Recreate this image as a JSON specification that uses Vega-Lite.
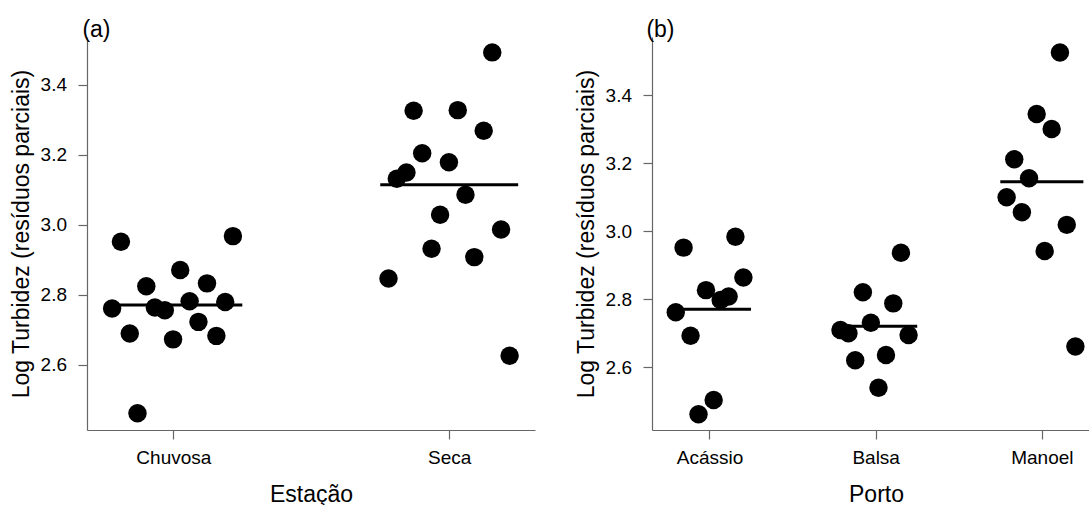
{
  "$schema": "https://vega.github.io/schema/vega-lite/v6.json",
  "autosize": {"type": "none"},
  "padding": {"left": 87, "top": 37, "right": 1002, "bottom": 468},
  "background": "white",
  "bounds": "flush",
  "spacing": 117,
  "config": {
    "view": {"stroke": null},
    "font": "Liberation Sans",
    "axis": {
      "grid": false,
      "domainColor": "#666666",
      "domainWidth": 1.2,
      "tickColor": "#666666",
      "tickWidth": 1.2,
      "tickSize": 9,
      "labelFont": "Liberation Sans",
      "labelFontSize": 19,
      "labelColor": "#000000",
      "titleFont": "Liberation Sans",
      "titleFontSize": 23,
      "titleFontWeight": "normal",
      "titleColor": "#000000"
    },
    "axisX": {"labelPadding": 9, "titleY": 71, "titleBaseline": "alphabetic", "labelAngle": 0},
    "axisY": {"labelPadding": 11.5, "titleX": -58.5, "titleBaseline": "alphabetic", "labelBaseline": "middle"}
  },
  "datasets": {
    "estacao": [
      {"grupo": "Chuvosa", "x": 0.810, "y": 2.952},
      {"grupo": "Chuvosa", "x": 0.778, "y": 2.761},
      {"grupo": "Chuvosa", "x": 0.842, "y": 2.690},
      {"grupo": "Chuvosa", "x": 0.902, "y": 2.825},
      {"grupo": "Chuvosa", "x": 0.933, "y": 2.764},
      {"grupo": "Chuvosa", "x": 0.969, "y": 2.756},
      {"grupo": "Chuvosa", "x": 1.025, "y": 2.871},
      {"grupo": "Chuvosa", "x": 0.999, "y": 2.673},
      {"grupo": "Chuvosa", "x": 1.059, "y": 2.782},
      {"grupo": "Chuvosa", "x": 1.091, "y": 2.723},
      {"grupo": "Chuvosa", "x": 1.122, "y": 2.833},
      {"grupo": "Chuvosa", "x": 1.156, "y": 2.683},
      {"grupo": "Chuvosa", "x": 1.188, "y": 2.780},
      {"grupo": "Chuvosa", "x": 1.216, "y": 2.968},
      {"grupo": "Chuvosa", "x": 0.870, "y": 2.462},
      {"grupo": "Seca", "x": 1.780, "y": 2.847},
      {"grupo": "Seca", "x": 1.810, "y": 3.132},
      {"grupo": "Seca", "x": 1.845, "y": 3.150},
      {"grupo": "Seca", "x": 1.871, "y": 3.326},
      {"grupo": "Seca", "x": 1.902, "y": 3.205},
      {"grupo": "Seca", "x": 1.936, "y": 2.932},
      {"grupo": "Seca", "x": 1.967, "y": 3.029},
      {"grupo": "Seca", "x": 1.999, "y": 3.179},
      {"grupo": "Seca", "x": 2.031, "y": 3.328},
      {"grupo": "Seca", "x": 2.059, "y": 3.086},
      {"grupo": "Seca", "x": 2.091, "y": 2.908},
      {"grupo": "Seca", "x": 2.125, "y": 3.269},
      {"grupo": "Seca", "x": 2.156, "y": 3.493},
      {"grupo": "Seca", "x": 2.188, "y": 2.987},
      {"grupo": "Seca", "x": 2.219, "y": 2.626}
    ],
    "estacaoMedia": [
      {"grupo": "Chuvosa", "x": 0.75, "xEnd": 1.25, "y": 2.771},
      {"grupo": "Seca", "x": 1.75, "xEnd": 2.25, "y": 3.115}
    ],
    "porto": [
      {"grupo": "Acássio", "x": 0.797, "y": 2.762},
      {"grupo": "Acássio", "x": 0.844, "y": 2.952},
      {"grupo": "Acássio", "x": 0.886, "y": 2.693},
      {"grupo": "Acássio", "x": 0.934, "y": 2.462},
      {"grupo": "Acássio", "x": 0.979, "y": 2.827},
      {"grupo": "Acássio", "x": 1.025, "y": 2.504},
      {"grupo": "Acássio", "x": 1.067, "y": 2.798},
      {"grupo": "Acássio", "x": 1.115, "y": 2.808},
      {"grupo": "Acássio", "x": 1.156, "y": 2.984},
      {"grupo": "Acássio", "x": 1.204, "y": 2.864},
      {"grupo": "Balsa", "x": 1.788, "y": 2.710},
      {"grupo": "Balsa", "x": 1.836, "y": 2.700},
      {"grupo": "Balsa", "x": 1.877, "y": 2.621},
      {"grupo": "Balsa", "x": 1.923, "y": 2.821},
      {"grupo": "Balsa", "x": 1.971, "y": 2.731},
      {"grupo": "Balsa", "x": 2.017, "y": 2.540},
      {"grupo": "Balsa", "x": 2.062, "y": 2.636},
      {"grupo": "Balsa", "x": 2.106, "y": 2.788},
      {"grupo": "Balsa", "x": 2.152, "y": 2.937},
      {"grupo": "Balsa", "x": 2.198, "y": 2.695},
      {"grupo": "Manoel", "x": 2.788, "y": 3.100},
      {"grupo": "Manoel", "x": 2.834, "y": 3.212},
      {"grupo": "Manoel", "x": 2.880, "y": 3.056},
      {"grupo": "Manoel", "x": 2.923, "y": 3.156},
      {"grupo": "Manoel", "x": 2.969, "y": 3.345},
      {"grupo": "Manoel", "x": 3.017, "y": 2.942},
      {"grupo": "Manoel", "x": 3.059, "y": 3.301},
      {"grupo": "Manoel", "x": 3.109, "y": 3.526},
      {"grupo": "Manoel", "x": 3.150, "y": 3.019},
      {"grupo": "Manoel", "x": 3.202, "y": 2.661}
    ],
    "portoMedia": [
      {"grupo": "Acássio", "x": 0.75, "xEnd": 1.25, "y": 2.771},
      {"grupo": "Balsa", "x": 1.75, "xEnd": 2.25, "y": 2.721},
      {"grupo": "Manoel", "x": 2.75, "xEnd": 3.25, "y": 3.146}
    ]
  },
  "hconcat": [
    {
      "width": 448,
      "height": 393,
      "title": {"text": "(a)", "anchor": "start", "frame": "group", "fontSize": 23, "fontWeight": "normal", "font": "Liberation Sans", "color": "#000000", "offset": 2, "baseline": "alphabetic", "dx": -4.6, "dy": 25},
      "layer": [
        {
          "data": {"name": "estacao"},
          "mark": {"type": "circle", "size": 340, "opacity": 1, "color": "#000000"},
          "encoding": {
            "x": {"field": "x", "type": "quantitative", "scale": {"domain": [0.687, 2.311], "nice": false, "zero": false},
                  "axis": {"values": [1, 2], "labelExpr": "datum.value == 1 ? 'Chuvosa' : 'Seca'", "title": "Estação"}},
            "y": {"field": "y", "type": "quantitative", "scale": {"domain": [2.414, 3.537], "nice": false, "zero": false},
                  "axis": {"values": [2.6, 2.8, 3.0, 3.2, 3.4], "format": ".1f", "title": "Log Turbidez (resíduos parciais)"}}
          }
        },
        {
          "data": {"name": "estacaoMedia"},
          "mark": {"type": "rule", "strokeWidth": 3, "color": "#000000"},
          "encoding": {
            "x": {"field": "x", "type": "quantitative", "axis": {"values": [1, 2], "labelExpr": "datum.value == 1 ? 'Chuvosa' : 'Seca'", "title": "Estação"}},
            "x2": {"field": "xEnd"},
            "y": {"field": "y", "type": "quantitative", "axis": {"values": [2.6, 2.8, 3.0, 3.2, 3.4], "format": ".1f", "title": "Log Turbidez (resíduos parciais)"}}
          }
        }
      ]
    },
    {
      "width": 448,
      "height": 393,
      "title": {"text": "(b)", "anchor": "start", "frame": "group", "fontSize": 23, "fontWeight": "normal", "font": "Liberation Sans", "color": "#000000", "offset": 2, "baseline": "alphabetic", "dx": -5.6, "dy": 25},
      "layer": [
        {
          "data": {"name": "porto"},
          "mark": {"type": "circle", "size": 340, "opacity": 1, "color": "#000000"},
          "encoding": {
            "x": {"field": "x", "type": "quantitative", "scale": {"domain": [0.654, 3.35], "nice": false, "zero": false},
                  "axis": {"values": [1, 2, 3], "labelExpr": "datum.value == 1 ? 'Acássio' : datum.value == 2 ? 'Balsa' : 'Manoel'", "title": "Porto"}},
            "y": {"field": "y", "type": "quantitative", "scale": {"domain": [2.4156, 3.5715], "nice": false, "zero": false},
                  "axis": {"values": [2.6, 2.8, 3.0, 3.2, 3.4], "format": ".1f", "title": "Log Turbidez (resíduos parciais)"}}
          }
        },
        {
          "data": {"name": "portoMedia"},
          "mark": {"type": "rule", "strokeWidth": 3, "color": "#000000"},
          "encoding": {
            "x": {"field": "x", "type": "quantitative", "axis": {"values": [1, 2, 3], "labelExpr": "datum.value == 1 ? 'Acássio' : datum.value == 2 ? 'Balsa' : 'Manoel'", "title": "Porto"}},
            "x2": {"field": "xEnd"},
            "y": {"field": "y", "type": "quantitative", "axis": {"values": [2.6, 2.8, 3.0, 3.2, 3.4], "format": ".1f", "title": "Log Turbidez (resíduos parciais)"}}
          }
        }
      ]
    }
  ]
}
